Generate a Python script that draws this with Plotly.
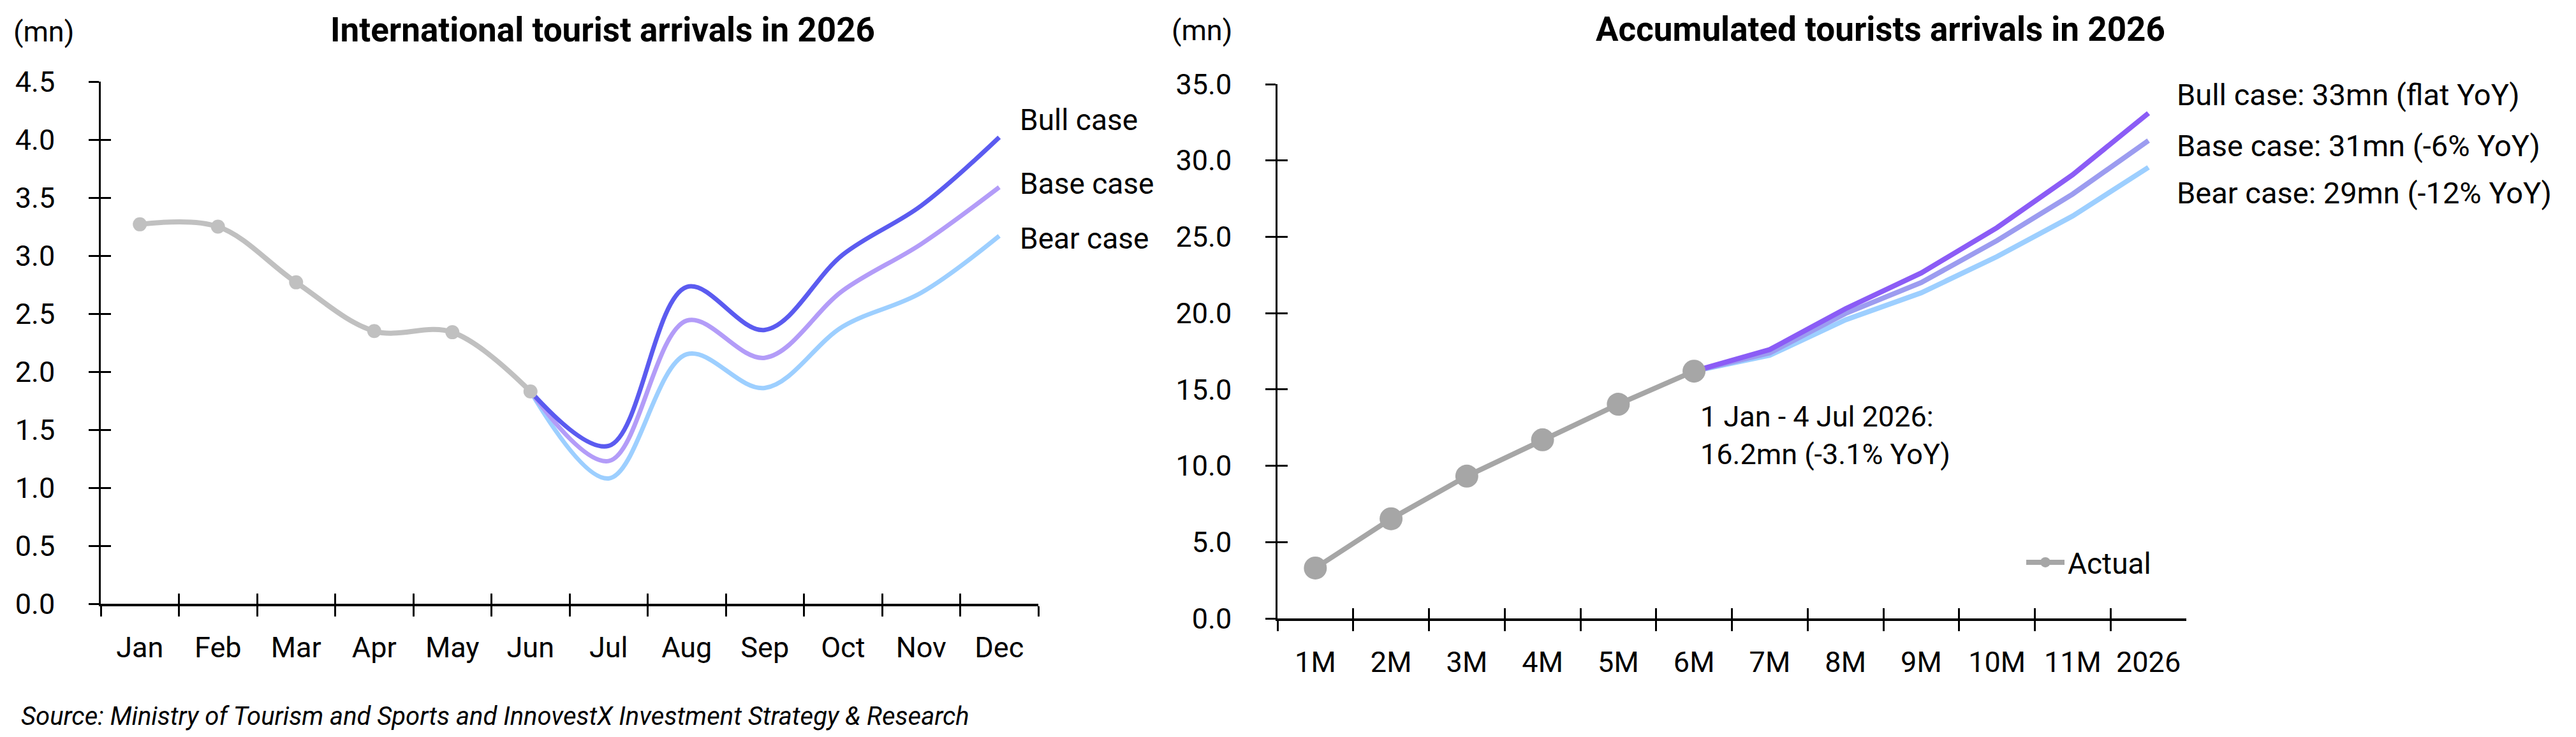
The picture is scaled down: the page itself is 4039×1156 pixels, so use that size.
import plotly.graph_objects as go

# ---------------- data ----------------
months = ["Jan", "Feb", "Mar", "Apr", "May", "Jun", "Jul", "Aug", "Sep", "Oct", "Nov", "Dec"]
actual_months = ["Jan", "Feb", "Mar", "Apr", "May", "Jun"]
actual_monthly = [3.27, 3.25, 2.77, 2.35, 2.34, 1.83]
scenario_months = ["Jun", "Jul", "Aug", "Sep", "Oct", "Nov", "Dec"]
bull_monthly = [1.83, 1.36, 2.73, 2.36, 3.01, 3.43, 4.02]
base_monthly = [1.83, 1.23, 2.44, 2.12, 2.70, 3.10, 3.59]
bear_monthly = [1.83, 1.08, 2.15, 1.86, 2.39, 2.68, 3.17]

periods = ["1M", "2M", "3M", "4M", "5M", "6M", "7M", "8M", "9M", "10M", "11M", "2026"]
actual_periods = ["1M", "2M", "3M", "4M", "5M", "6M"]
actual_cum = [3.30, 6.53, 9.32, 11.70, 14.03, 16.20]
scenario_periods = ["6M", "7M", "8M", "9M", "10M", "11M", "2026"]
bull_cum = [16.20, 17.61, 20.29, 22.63, 25.60, 29.07, 33.10]
base_cum = [16.20, 17.40, 19.98, 22.00, 24.75, 27.80, 31.30]
bear_cum = [16.20, 17.24, 19.56, 21.33, 23.70, 26.36, 29.55]

left_labels = ["Bull case", "Base case", "Bear case"]
right_labels = ["Bull case: 33mn (flat YoY)", "Base case: 31mn (-6% YoY)", "Bear case: 29mn (-12% YoY)"]

# ---------------- style ----------------
FONT = "Roboto"
FS = 45
W, H = 4039, 1156
L_BULL, L_BASE, L_BEAR, L_ACT = "#5B5BF0", "#B39CF8", "#9DCFFF", "#C0C0C0"
R_BULL, R_BASE, R_BEAR, R_ACT = "#8B5CF6", "#9C9CF0", "#9DCFFF", "#A6A6A6"

LX = [158 / W, 1628 / W]
LY = [1 - 947 / H, 1 - 128 / H]
RX = [2003 / W, 3428 / W]
RY = [1 - 970 / H, 1 - 132 / H]

fig = go.Figure()

# left chart
for name, vals, col in [("Bear", bear_monthly, L_BEAR), ("Base", base_monthly, L_BASE), ("Bull", bull_monthly, L_BULL)]:
    fig.add_trace(go.Scatter(x=scenario_months, y=vals, mode="lines", line=dict(color=col, width=7, shape="spline"),
                             showlegend=False, xaxis="x", yaxis="y", hoverinfo="skip"))
fig.add_trace(go.Scatter(x=actual_months, y=actual_monthly, mode="lines+markers",
                         line=dict(color=L_ACT, width=8, shape="spline"),
                         marker=dict(color=L_ACT, size=22), showlegend=False, xaxis="x", yaxis="y"))

# right chart
for name, vals, col in [("Bear", bear_cum, R_BEAR), ("Base", base_cum, R_BASE), ("Bull", bull_cum, R_BULL)]:
    fig.add_trace(go.Scatter(x=scenario_periods, y=vals, mode="lines", line=dict(color=col, width=8),
                             showlegend=False, xaxis="x2", yaxis="y2", hoverinfo="skip"))
fig.add_trace(go.Scatter(x=actual_periods, y=actual_cum, mode="lines+markers", name="Actual",
                         line=dict(color=R_ACT, width=8), marker=dict(color=R_ACT, size=36),
                         showlegend=True, xaxis="x2", yaxis="y2"))

# invisible traces for the overlay axes (inside half of the crossing ticks)
fig.add_trace(go.Scatter(x=months, y=[None] * len(months), xaxis="x3", yaxis="y3", showlegend=False, hoverinfo="skip"))
fig.add_trace(go.Scatter(x=periods, y=[None] * len(periods), xaxis="x4", yaxis="y4", showlegend=False, hoverinfo="skip"))

axfont = dict(family=FONT, size=FS, color="black")
common_x = dict(type="category", showline=True, linecolor="black", linewidth=3.5, ticks="outside", ticklen=16,
                tickwidth=2.5, tickcolor="black", tickson="boundaries", showgrid=False, zeroline=False,
                tickfont=axfont, ticklabelstandoff=26, fixedrange=True, automargin=False)
common_y = dict(showline=True, linecolor="black", linewidth=2.5, ticks="outside", ticklen=16, tickwidth=2.5,
                tickcolor="black", showgrid=False, zeroline=False, tickformat=".1f", tickfont=axfont,
                ticklabelstandoff=44, fixedrange=True, automargin=False)
ov_x = dict(type="category", showline=False, ticks="inside", ticklen=16, tickwidth=2.5, tickcolor="black",
            tickson="boundaries", showticklabels=False, showgrid=False, zeroline=False, fixedrange=True)
ov_y = dict(showline=False, ticks="inside", ticklen=16, tickwidth=2.5, tickcolor="black",
            showticklabels=False, showgrid=False, zeroline=False, fixedrange=True)

fig.update_layout(
    width=W, height=H,
    margin=dict(l=0, r=0, t=0, b=0, pad=0, autoexpand=False),
    paper_bgcolor="white", plot_bgcolor="white",
    font=dict(family=FONT, size=FS, color="black"),
    xaxis=dict(domain=LX, anchor="y", categoryorder="array", categoryarray=months, range=[-0.5, 11.5], **common_x),
    yaxis=dict(domain=LY, anchor="x", range=[0, 4.5], dtick=0.5, **common_y),
    xaxis2=dict(domain=RX, anchor="y2", categoryorder="array", categoryarray=periods, range=[-0.5, 11.5], **common_x),
    yaxis2=dict(domain=RY, anchor="x2", range=[0, 35], dtick=5, **common_y),
    xaxis3=dict(domain=LX, anchor="y3", overlaying="x", categoryorder="array", categoryarray=months,
                range=[-0.5, 11.5], **ov_x),
    yaxis3=dict(domain=LY, anchor="x3", overlaying="y", range=[0, 4.5], dtick=0.5, **ov_y),
    xaxis4=dict(domain=RX, anchor="y4", overlaying="x2", categoryorder="array", categoryarray=periods,
                range=[-0.5, 11.5], **ov_x),
    yaxis4=dict(domain=RY, anchor="x4", overlaying="y2", range=[0, 35], dtick=5, **ov_y),
    showlegend=True,
    legend=dict(x=3172 / W, y=1 - 882 / H, xanchor="left", yanchor="middle", bgcolor="rgba(0,0,0,0)",
                font=dict(family=FONT, size=FS + 1, color="black"), itemwidth=60),
)

ann = []
# titles and units
ann.append(dict(text="<b>International tourist arrivals in 2026</b>", x=945 / W, y=1 - 47 / H, xref="paper", yref="paper",
                xanchor="center", yanchor="middle", showarrow=False, font=dict(family=FONT, size=53, color="black")))
ann.append(dict(text="<b>Accumulated tourists arrivals in 2026</b>", x=2948 / W, y=1 - 46 / H, xref="paper", yref="paper",
                xanchor="center", yanchor="middle", showarrow=False, font=dict(family=FONT, size=53, color="black")))
ann.append(dict(text="(mn)", x=68 / W, y=1 - 50 / H, xref="paper", yref="paper", xanchor="center", yanchor="middle",
                showarrow=False, font=axfont))
ann.append(dict(text="(mn)", x=1884 / W, y=1 - 48 / H, xref="paper", yref="paper", xanchor="center", yanchor="middle",
                showarrow=False, font=axfont))
# left scenario labels (anchored at the last category, Dec)
for txt, yv in zip(left_labels, [4.17, 3.62, 3.15]):
    ann.append(dict(text=txt, x=len(months) - 1, y=yv, xref="x", yref="y", xanchor="left", yanchor="middle", xshift=30,
                    showarrow=False, font=dict(family=FONT, size=FS + 1, color="black")))
# right scenario labels (anchored at the last category, 2026)
for txt, yv in zip(right_labels, [34.3, 30.95, 27.86]):
    ann.append(dict(text=txt, x=len(periods) - 1, y=yv, xref="x2", yref="y2", xanchor="left", yanchor="middle", xshift=42,
                    showarrow=False, font=dict(family=FONT, size=FS + 2, color="black")))
# actual annotation (anchored at 6M)
ann.append(dict(text="1 Jan - 4 Jul 2026:<br>16.2mn (-3.1% YoY)", x=periods.index("6M"), y=12.0, xref="x2", yref="y2",
                xanchor="left", yanchor="middle", xshift=8, align="left", showarrow=False, font=axfont))
# source
ann.append(dict(text="<i>Source: Ministry of Tourism and Sports and InnovestX Investment Strategy & Research</i>",
                x=31 / W, y=1 - 1123 / H, xref="paper", yref="paper", xanchor="left", yanchor="middle",
                showarrow=False, font=dict(family=FONT, size=40, color="black")))
fig.update_layout(annotations=ann)

fig.write_html("out.html")
